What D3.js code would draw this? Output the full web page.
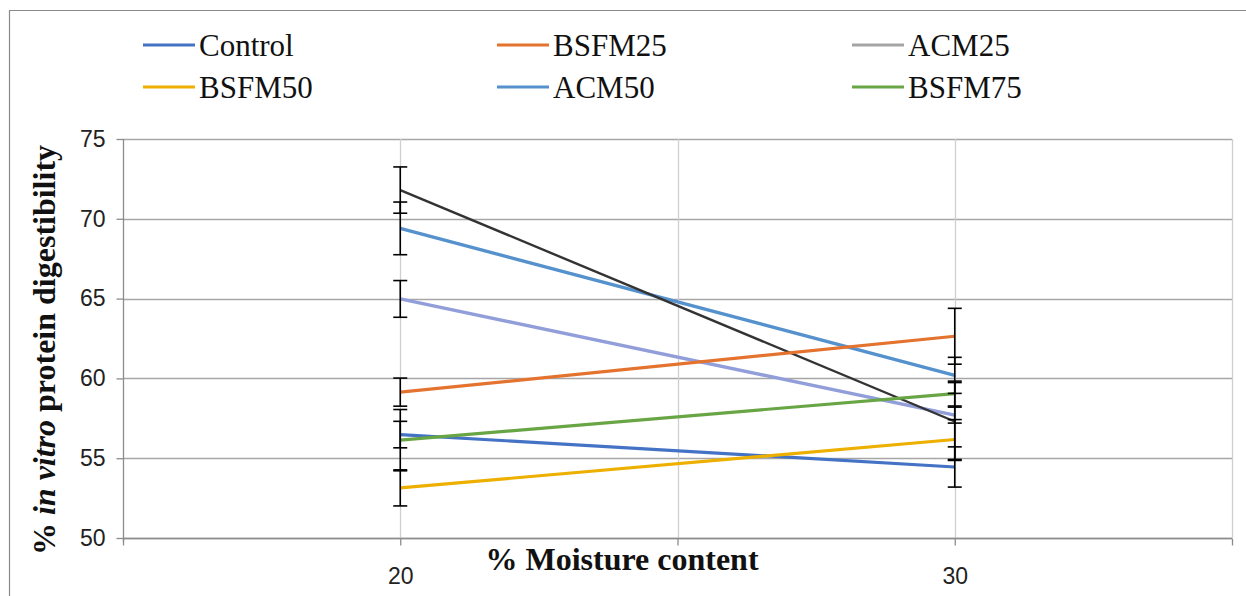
<!DOCTYPE html>
<html>
<head>
<meta charset="utf-8">
<script src="https://cdn.jsdelivr.net/npm/d3@7"></script>
<style>
  html, body { margin: 0; padding: 0; background: #fff; }
  svg { display: block; }
</style>
</head>
<body>
<svg id="chart" width="1246" height="596"></svg>
<script>
// Moisture levels (x) and digestibility series (mean, SD) at each level
const moisture = [20, 30];
const xTicks = [15, 20, 25, 30, 35];
const xTickLabels = ["", "20", "", "30", ""];
const yTicks = [50, 55, 60, 65, 70, 75];

const seriesNames = ["Control", "BSFM25", "ACM25", "BSFM50", "ACM50", "BSFM75", "ACM75"];
const control = [56.48, 54.45];
const controlSD = [0.83, 1.26];
const bsfm25 = [59.14, 62.64];
const bsfm25SD = [0.88, 1.75];
const acm25 = [71.8, 57.3];
const acm25SD = [1.45, 2.44];
const bsfm50 = [53.14, 56.17];
const bsfm50SD = [1.13, 1.25];
const acm50 = [69.4, 60.19];
const acm50SD = [1.65, 1.13];
const bsfm75 = [56.13, 59.05];
const bsfm75SD = [1.92, 0.78];
const acm75 = [64.98, 57.7];
const acm75SD = [1.15, 0.5];

const valuesBySeries = [control, bsfm25, acm25, bsfm50, acm50, bsfm75, acm75];
const sdBySeries = [controlSD, bsfm25SD, acm25SD, bsfm50SD, acm50SD, bsfm75SD, acm75SD];

// Visual styling per series
const lineColor = ["#4472C4", "#E3732F", "#333333", "#EDB000", "#5592CD", "#68A544", "#919EDA"];
const legendColor = ["#4472C4", "#E3732F", "#A5A5A5", "#EDB000", "#5592CD", "#68A544", null];
const lineWidth = [3.2, 3.2, 2.4, 3.2, 3.4, 3.2, 3.4];
const drawOrder = [6, 4, 2, 1, 0, 5, 3];

const svg = d3.select("#chart");

// Outer chart frame (top and left edges visible)
svg.append("path")
  .attr("d", "M9.5,596 L9.5,10.5 L1246,10.5")
  .attr("fill", "none")
  .attr("stroke", "#8a8a8a")
  .attr("stroke-width", 1.2);

const x = d3.scaleLinear().domain([15, 35]).range([123, 1232]);
const y = d3.scaleLinear().domain([50, 75]).range([538, 139]);

const grid = svg.append("g");
// horizontal gridlines
grid.selectAll("line.h").data(yTicks).join("line")
  .attr("class", "h")
  .attr("x1", x(15)).attr("x2", x(35))
  .attr("y1", d => Math.round(y(d)) + 0.5).attr("y2", d => Math.round(y(d)) + 0.5)
  .attr("stroke", "#a6a6a6").attr("stroke-width", 1.3);
// vertical gridlines
grid.selectAll("line.v").data(xTicks.slice(1)).join("line")
  .attr("class", "v")
  .attr("x1", d => Math.round(x(d)) + 0.5).attr("x2", d => Math.round(x(d)) + 0.5)
  .attr("y1", y(75)).attr("y2", y(50))
  .attr("stroke", "#cfcfcf").attr("stroke-width", 1.3);

// Y axis
const yAxis = d3.axisLeft(y).tickValues(yTicks).tickSize(7).tickPadding(11)
  .tickFormat(d3.format("d"));
const gy = svg.append("g").attr("transform", `translate(${Math.round(x(15)) + 0.5},0)`).call(yAxis);
gy.select(".domain").attr("stroke", "#8c8c8c").attr("stroke-width", 1.3).attr("d", `M0,${y(75)}V${y(50) + 4}`);
gy.selectAll(".tick line").attr("stroke", "#8c8c8c").attr("stroke-width", 1.3);
gy.selectAll(".tick text")
  .attr("font-family", "'Liberation Sans', Arial, sans-serif")
  .attr("font-size", 23).attr("fill", "#222");

// X axis
const xAxis = d3.axisBottom(x).tickValues(xTicks).tickSize(7).tickPadding(22)
  .tickFormat((d, i) => xTickLabels[i]);
const gx = svg.append("g").attr("transform", `translate(0,${Math.round(y(50)) + 0.5})`).call(xAxis);
gx.select(".domain").attr("stroke", "#8c8c8c").attr("stroke-width", 1.3).attr("d", `M${x(15)},0H${x(35)}`);
gx.selectAll(".tick line").attr("stroke", "#8c8c8c").attr("stroke-width", 1.3);
gx.selectAll(".tick text")
  .attr("font-family", "'Liberation Sans', Arial, sans-serif")
  .attr("font-size", 23).attr("fill", "#222");

// Series lines
const line = d3.line().x(d => x(d[0])).y(d => y(d[1]));
const linesG = svg.append("g");
drawOrder.forEach(i => {
  linesG.append("path")
    .datum(moisture.map((m, j) => [m, valuesBySeries[i][j]]))
    .attr("d", line)
    .attr("fill", "none")
    .attr("stroke", lineColor[i])
    .attr("stroke-width", lineWidth[i])
    .attr("stroke-linecap", "butt");
});

// Error bars (mean ± SD)
const errG = svg.append("g").attr("stroke", "#000").attr("stroke-width", 1.6);
const capHalf = 7;
valuesBySeries.forEach((vals, i) => {
  vals.forEach((v, j) => {
    const cx = x(moisture[j]);
    const lo = y(v - sdBySeries[i][j]);
    const hi = y(v + sdBySeries[i][j]);
    errG.append("line").attr("x1", cx).attr("x2", cx).attr("y1", hi).attr("y2", lo);
    errG.append("line").attr("x1", cx - capHalf).attr("x2", cx + capHalf).attr("y1", hi).attr("y2", hi);
    errG.append("line").attr("x1", cx - capHalf).attr("x2", cx + capHalf).attr("y1", lo).attr("y2", lo);
  });
});

// Legend: three columns, two rows
const legendX = [143, 497, 852];
const legendY = [45, 87];
const legend = svg.append("g");
seriesNames.forEach((name, i) => {
  if (!legendColor[i]) return;
  const lx = legendX[i % 3];
  const ly = legendY[Math.floor(i / 3)];
  legend.append("line")
    .attr("x1", lx).attr("x2", lx + 52).attr("y1", ly).attr("y2", ly)
    .attr("stroke", legendColor[i]).attr("stroke-width", 3.2);
  legend.append("text")
    .attr("x", lx + 56).attr("y", ly + 11)
    .attr("font-family", "'Liberation Serif', 'Times New Roman', serif")
    .attr("font-size", 31).attr("fill", "#111")
    .text(name);
});

// Axis titles
const yTitle = svg.append("text")
  .attr("transform", `translate(55,${(145 + 555) / 2}) rotate(-90)`)
  .attr("text-anchor", "middle")
  .attr("font-family", "'Liberation Serif', 'Times New Roman', serif")
  .attr("font-weight", "bold")
  .attr("font-size", 32)
  .attr("fill", "#111");
yTitle.append("tspan").text("% ");
yTitle.append("tspan").attr("font-style", "italic").text("in vitro");
yTitle.append("tspan").text(" protein digestibility");

svg.append("text")
  .attr("x", 622).attr("y", 570)
  .attr("text-anchor", "middle")
  .attr("font-family", "'Liberation Serif', 'Times New Roman', serif")
  .attr("font-weight", "bold")
  .attr("font-size", 32)
  .attr("fill", "#111")
  .text("% Moisture content");
</script>
</body>
</html>
